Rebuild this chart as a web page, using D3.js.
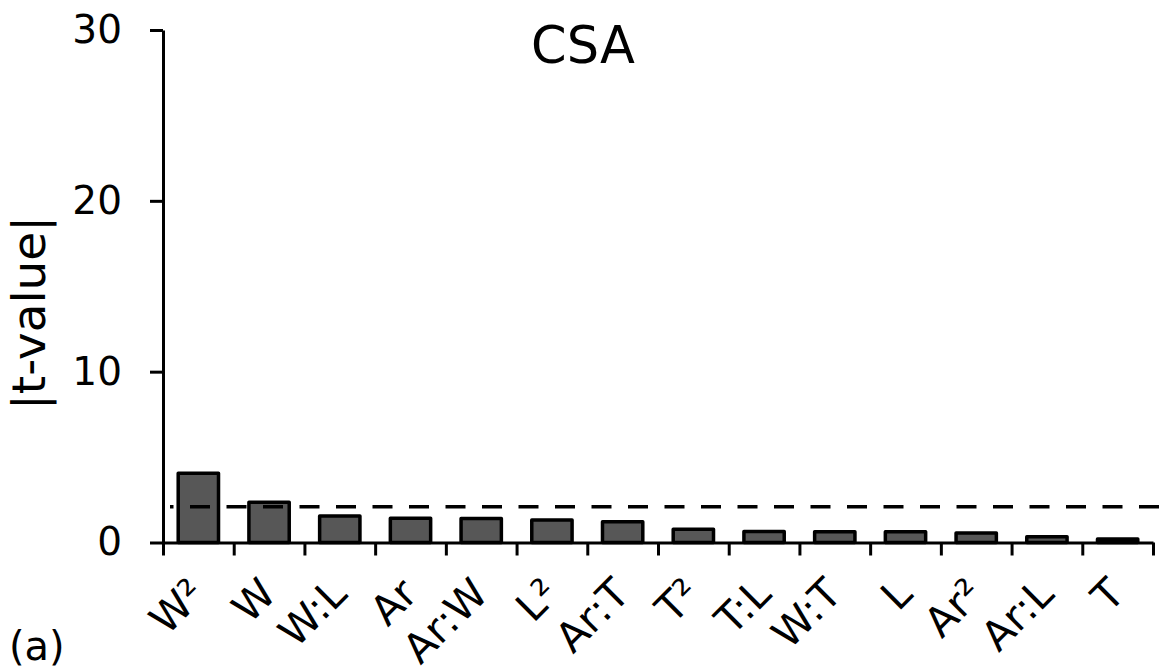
<!DOCTYPE html>
<html>
<head>
<meta charset="utf-8">
<script src="https://cdn.jsdelivr.net/npm/d3@7"></script>
<style>
  html, body { margin: 0; padding: 0; background: #fff; }
  svg { display: block; }
  text { font-family: "DejaVu Sans", Verdana, sans-serif; fill: #000; }
</style>
</head>
<body>
<svg id="chart" width="1159" height="672"></svg>
<script>
const categories = ["W²", "W", "W:L", "Ar", "Ar:W", "L²", "Ar:T", "T²", "T:L", "W:T", "L", "Ar²", "Ar:L", "T"];
const tValues = [4.05, 2.35, 1.55, 1.42, 1.40, 1.31, 1.21, 0.78, 0.64, 0.63, 0.63, 0.55, 0.33, 0.2];
const yTicks = [0, 10, 20, 30];
const threshold = 2.1;
const title = "CSA";
const yLabel = "|t-value|";
const panelLabel = "(a)";

(function () {
const svg = d3.select("#chart");
const mLeft = 163, mRight = 1153, mTop = 30, mBottom = 542.5;

const x = d3.scaleBand().domain(categories).range([mLeft, mRight]).padding(0);
const xIdx = d3.scaleLinear().domain([0, categories.length]).range([mLeft, mRight]);
const y = d3.scaleLinear().domain([0, 30]).range([mBottom, mTop]);

// bars
const barW = x.bandwidth() * 0.57;
svg.append("g").selectAll("rect")
  .data(categories.map((c, i) => ({ c, v: tValues[i] })))
  .join("rect")
  .attr("x", d => x(d.c) + (x.bandwidth() - barW) / 2)
  .attr("y", d => y(d.v))
  .attr("width", barW)
  .attr("height", d => y(0) - y(d.v))
  .attr("fill", "#575757")
  .attr("stroke", "#000")
  .attr("stroke-width", 3.5)
  .attr("stroke-linejoin", "round");

// x axis (ticks at category boundaries)
const gx = svg.append("g").attr("transform", `translate(0,${mBottom})`)
  .call(d3.axisBottom(xIdx).tickValues(d3.range(categories.length + 1)).tickFormat("").tickSize(13).tickSizeOuter(0));
gx.select(".domain").attr("stroke-width", 3);
gx.selectAll(".tick line").attr("stroke-width", 3);

// y axis
const gy = svg.append("g").attr("transform", `translate(${mLeft},0)`)
  .call(d3.axisLeft(y).tickValues(yTicks).tickSize(13).tickSizeOuter(0).tickPadding(28));
gy.select(".domain").attr("stroke-width", 3);
gy.selectAll(".tick line").attr("stroke-width", 3);
gy.selectAll(".tick text").attr("font-size", 39).attr("font-family", "DejaVu Sans");

// x labels rotated
svg.append("g").selectAll("text")
  .data(categories)
  .join("text")
  .attr("transform", d => `translate(${x(d) + x.bandwidth() / 2 + 9},${mBottom + 53.5}) rotate(-45)`)
  .attr("text-anchor", "end")
  .attr("font-size", 41)
  .text(d => d);

// threshold dashed line (on top of bars)
svg.append("line")
  .attr("x1", 170).attr("x2", 1159)
  .attr("y1", y(threshold)).attr("y2", y(threshold))
  .attr("stroke", "#000")
  .attr("stroke-width", 3.5)
  .attr("stroke-dasharray", "20 16.5")
  .attr("stroke-dashoffset", 16.5);

// title
svg.append("text")
  .attr("x", 583).attr("y", 63)
  .attr("text-anchor", "middle")
  .attr("font-size", 51)
  .text(title);

// y label
svg.append("text")
  .attr("transform", `translate(45,313) rotate(-90)`)
  .attr("text-anchor", "middle")
  .attr("font-size", 47)
  .text(yLabel);

// panel label
svg.append("text")
  .attr("x", 9).attr("y", 660)
  .attr("font-size", 40)
  .text(panelLabel);
})();
</script>
</body>
</html>
